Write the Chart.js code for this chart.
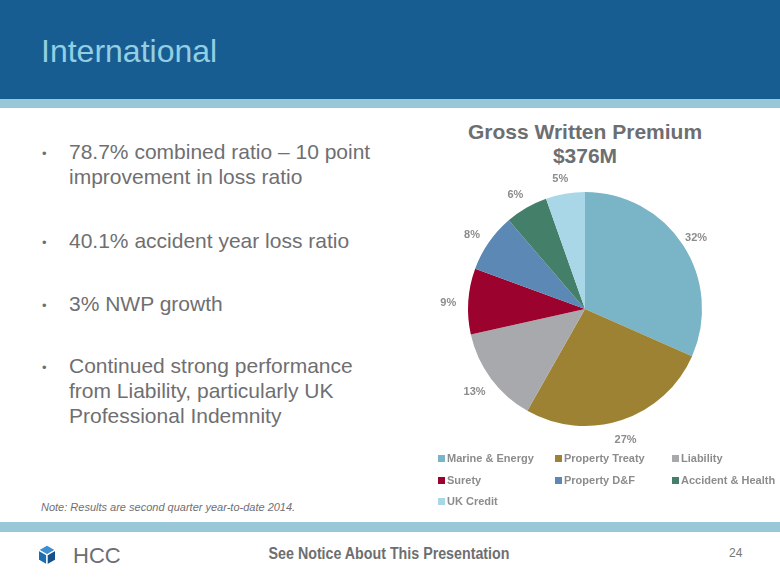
<!DOCTYPE html>
<html>
<head>
<meta charset="utf-8">
<script src="https://cdn.jsdelivr.net/npm/chart.js@4.4.1/dist/chart.umd.min.js"></script>
<style>
  body { margin: 0; width: 780px; height: 585px; position: relative; overflow: hidden; background: #fff; font-family: "Liberation Sans", Arial, sans-serif; }
  .abs { position: absolute; white-space: nowrap; }
  #header { left: 0; top: 0; width: 780px; height: 99px; background: #185d91; }
  #band1 { left: 0; top: 99px; width: 780px; height: 9px; background: #98c8d8; }
  #band2 { left: 0; top: 522px; width: 780px; height: 10px; background: #98c8d8; }
  #title { left: 41px; top: 35px; font-size: 32px; line-height: 32px; color: #93cfe2; }
  .bullet { left: 42px; font-size: 21px; line-height: 25px; color: #6f6f72; }
  .bullet span.dot { position: absolute; left: 0; top: 2px; font-size: 13px; }
  .bullet div { margin-left: 27px; }
  #note { left: 41px; top: 502px; font-size: 11px; line-height: 11px; font-style: italic; color: #6f6f72; }
  .ctitle { left: 435px; width: 300px; text-align: center; font-weight: bold; font-size: 21px; line-height: 21px; color: #6d6e71; }
  #chartBox { left: 415px; top: 149px; width: 340px; height: 320px; }
  .leg { font-size: 11px; line-height: 11px; font-weight: bold; color: #8c8c8c; }
  .leg i { position: absolute; left: -9px; top: 2px; width: 7px; height: 7px; }
  #notice { left: 389px; top: 546px; font-size: 16px; line-height: 16px; font-weight: bold; color: #6d6e71; transform: translateX(-50%) scaleX(0.89); }
  #hcc { left: 73px; top: 545px; font-size: 22px; line-height: 22px; color: #6d6e71; }
  #page { left: 729px; top: 547px; font-size: 12px; line-height: 12px; color: #777; }
</style>
</head>
<body>
<div class="abs" id="header"></div>
<div class="abs" id="band1"></div>
<div class="abs" id="band2"></div>
<div class="abs" id="title">International</div>

<div id="bullets"></div>

<div class="abs ctitle" style="top:121px">Gross Written Premium</div>
<div class="abs ctitle" style="top:145px">$376M</div>
<div class="abs" id="chartBox"><canvas id="pie" width="340" height="320"></canvas></div>
<div id="legend"></div>

<div class="abs" id="note">Note: Results are second quarter year-to-date 2014.</div>

<svg class="abs" style="left:37px;top:544px" width="22" height="24" viewBox="37 544 22 24">
  <polygon points="47,545 55.7,550 47,555 38.3,550" fill="#3d8fd0" stroke="#fff" stroke-width="1.4"/>
  <polygon points="38.3,550 47,555 47,565 38.3,560" fill="#1c6db3" stroke="#fff" stroke-width="1.4"/>
  <polygon points="47,555 55.7,550 55.7,560 47,565" fill="#15528c" stroke="#fff" stroke-width="1.4"/>
</svg>
<div class="abs" id="hcc">HCC</div>
<div class="abs" id="notice">See Notice About This Presentation</div>
<div class="abs" id="page">24</div>

<script>
// Gross written premium by line (% of $376M)
const segments = ["Marine & Energy", "Property Treaty", "Liability", "Surety",
                  "Property D&F", "Accident & Health", "UK Credit"];
const shares = [31.6, 26.6, 13.3, 9.1, 8.1, 5.9, 5.4];
const colors = ["#79b4c7", "#9c8232", "#a7a9ac", "#9b022d", "#5b88b4", "#437f69", "#a9d7e7"];

// Bullet text (one array per bullet, one string per line)
const bullets = [
  ["78.7% combined ratio \u2013 10 point", "improvement in loss ratio"],
  ["40.1% accident year loss ratio"],
  ["3% NWP growth"],
  ["Continued strong performance", "from Liability, particularly UK", "Professional Indemnity"]
];
const bulletTops = [139, 228, 291, 353];

const bEl = document.getElementById("bullets");
bullets.forEach((lines, i) => {
  const d = document.createElement("div");
  d.className = "abs bullet";
  d.style.top = bulletTops[i] + "px";
  d.innerHTML = '<span class="dot">\u2022</span><div>' + lines.join("<br>") + "</div>";
  bEl.appendChild(d);
});

// Legend: 3 columns like the original
const legCols = [447, 564, 681];
const legRows = [453, 475, 496];
const lEl = document.getElementById("legend");
segments.forEach((name, i) => {
  const d = document.createElement("div");
  d.className = "abs leg";
  d.style.left = legCols[i % 3] + "px";
  d.style.top = legRows[Math.floor(i / 3)] + "px";
  d.innerHTML = '<i style="background:' + colors[i] + '"></i>' + name.replace("&", "&amp;");
  lEl.appendChild(d);
});

// percent labels outside each slice
const outsideLabels = {
  id: "outsideLabels",
  afterDatasetsDraw(chart) {
    const ctx = chart.ctx;
    const meta = chart.getDatasetMeta(0);
    ctx.save();
    ctx.font = "bold 11px 'Liberation Sans', Arial, sans-serif";
    ctx.fillStyle = "#8c8c8c";
    ctx.textAlign = "center";
    ctx.textBaseline = "middle";
    meta.data.forEach((arc, i) => {
      const p = arc.getProps(["x", "y", "startAngle", "endAngle", "outerRadius"], true);
      const mid = (p.startAngle + p.endAngle) / 2;
      const r = p.outerRadius + 18;
      ctx.fillText(Math.round(shares[i]) + "%", p.x + Math.cos(mid) * r - 2, p.y + Math.sin(mid) * r + 3);
    });
    ctx.restore();
  }
};

new Chart(document.getElementById("pie"), {
  type: "pie",
  data: {
    labels: segments,
    datasets: [{
      data: shares,
      backgroundColor: colors,
      borderWidth: 0
    }]
  },
  options: {
    responsive: false,
    animation: false,
    layout: { padding: { left: 53, right: 53, top: 43, bottom: 43 } },
    plugins: {
      legend: { display: false },
      tooltip: { enabled: false }
    }
  },
  plugins: [outsideLabels]
});
</script>
</body>
</html>
